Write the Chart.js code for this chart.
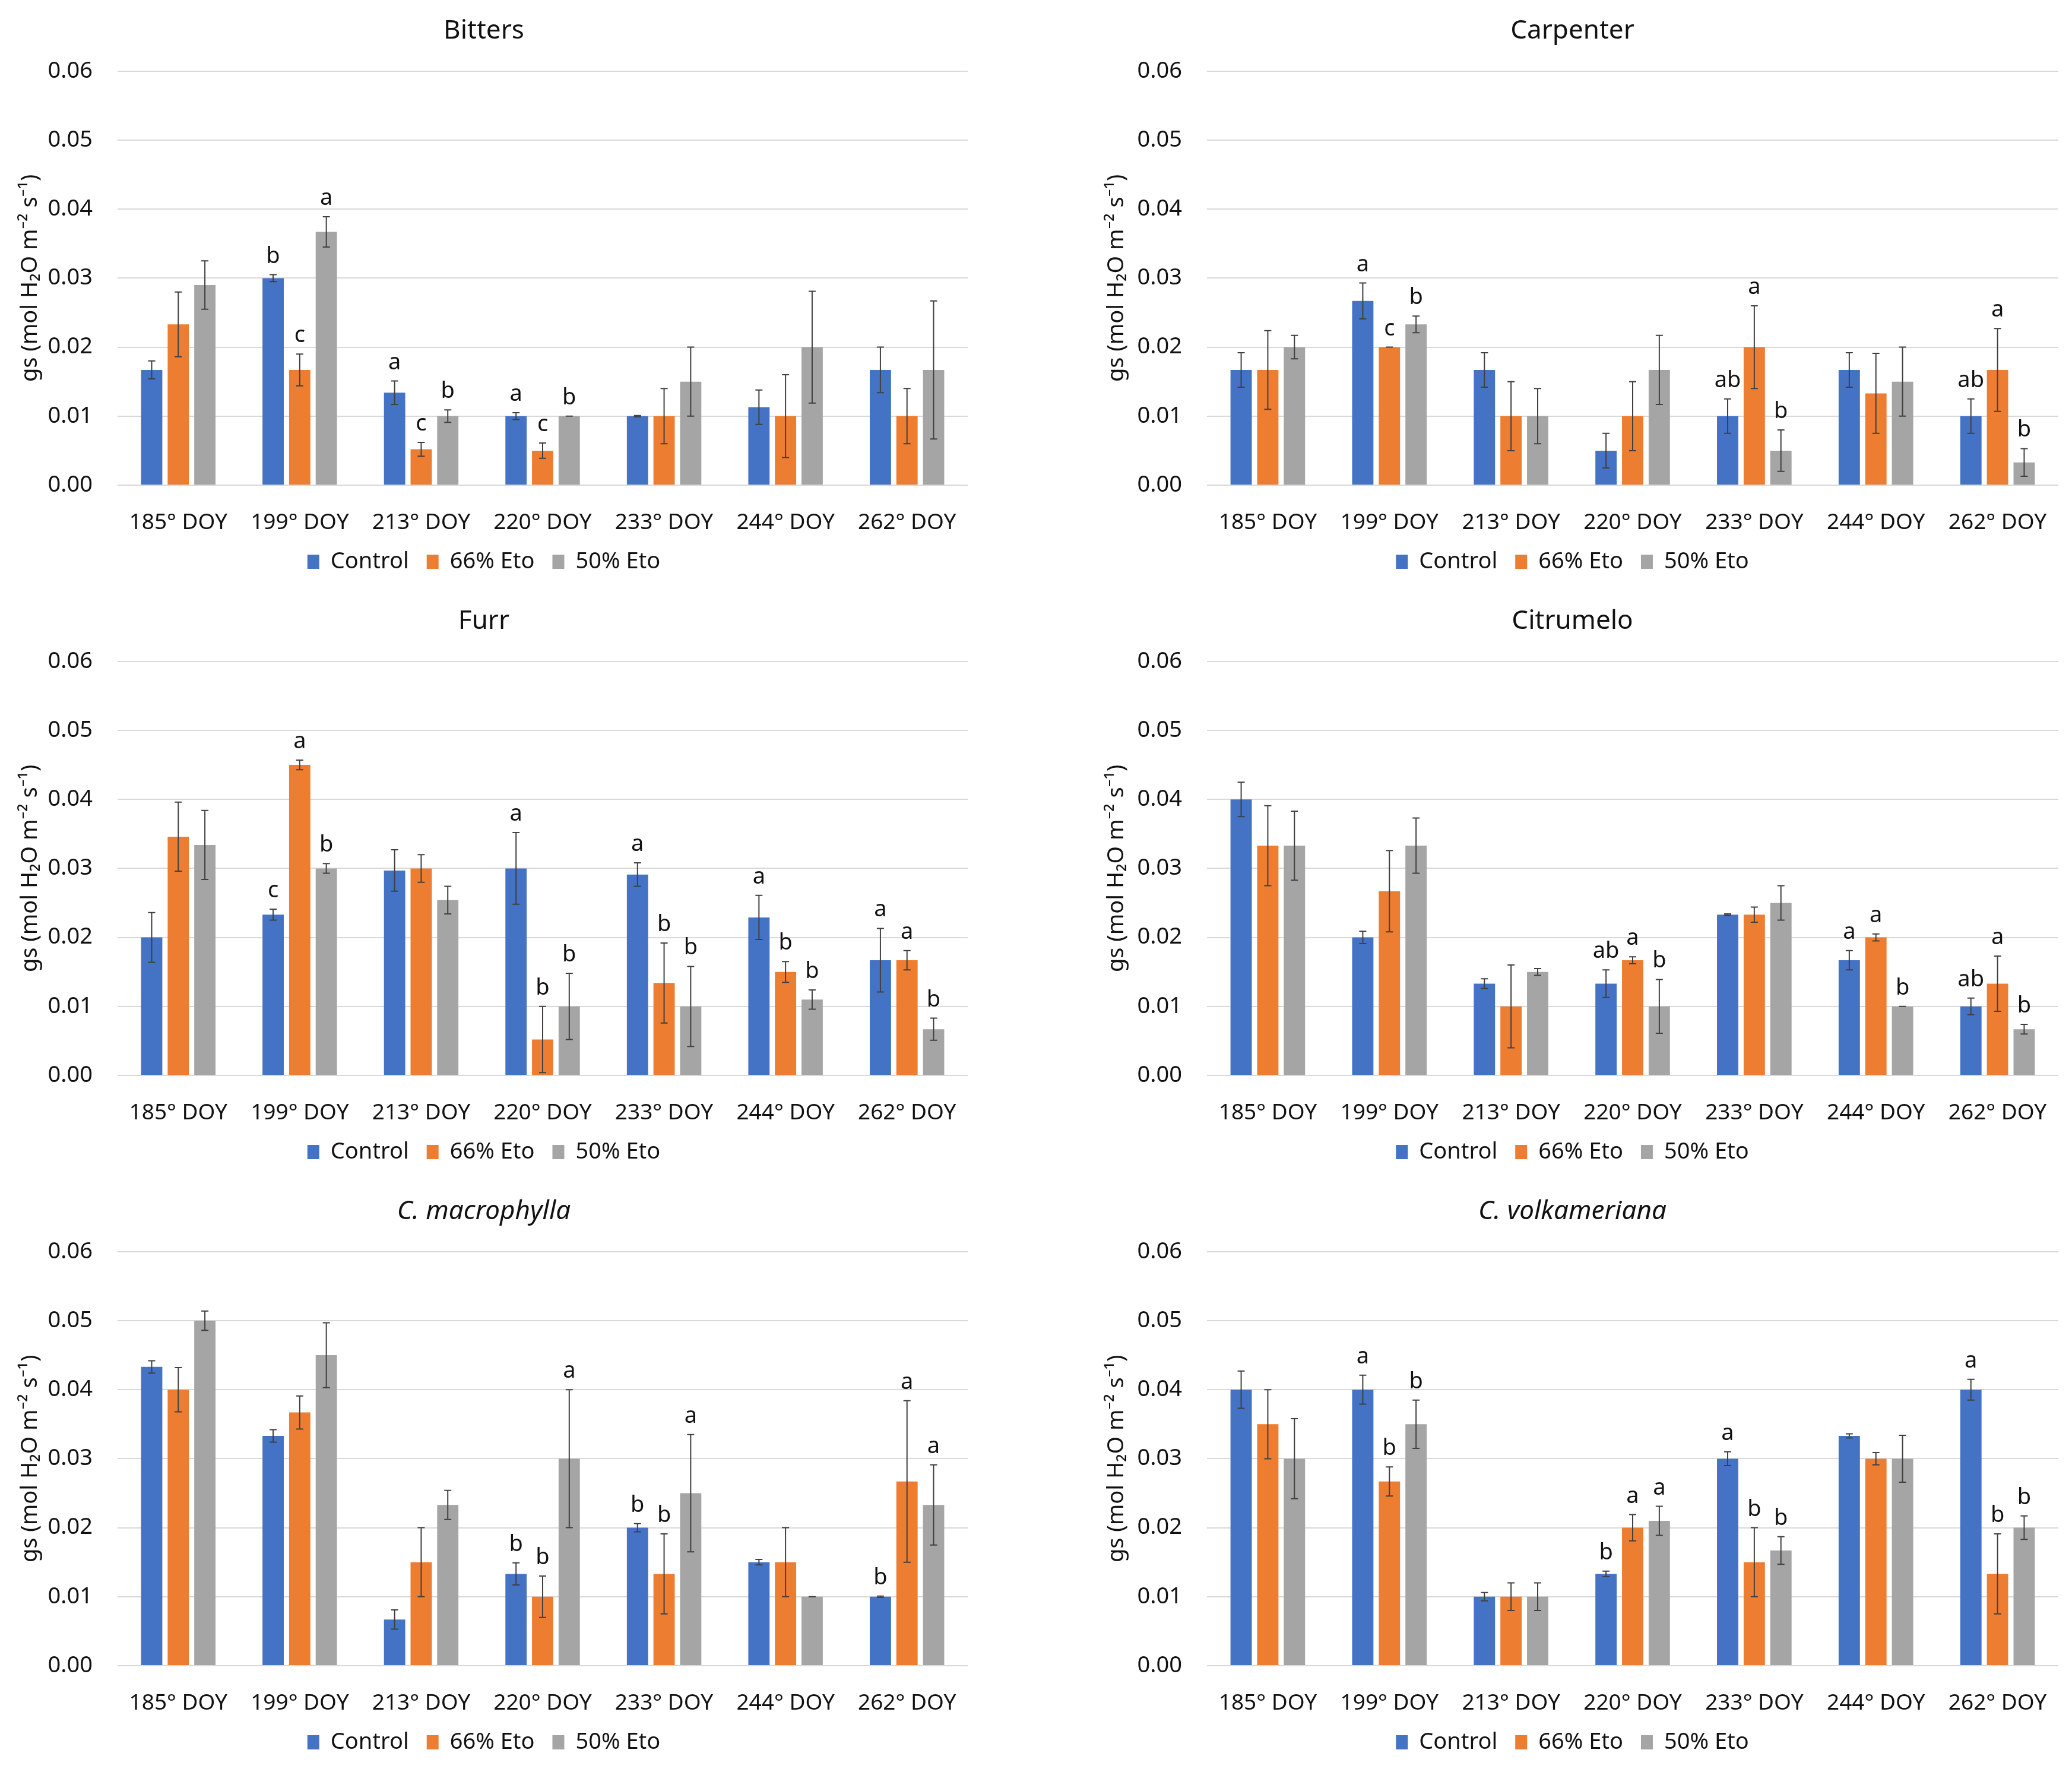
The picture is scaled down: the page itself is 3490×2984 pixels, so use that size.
<!DOCTYPE html>
<html><head><meta charset="utf-8">
<script src="https://cdn.jsdelivr.net/npm/chart.js@4.4.1/dist/chart.umd.min.js"></script>
<style>
html,body{margin:0;padding:0;background:#fff;}
#wrap{position:relative;width:3490px;height:2984px;background:#fff;}
canvas.panel{position:absolute;}
</style></head><body><div id="wrap"></div>
<script>
const categories = ['185° DOY','199° DOY','213° DOY','220° DOY','233° DOY','244° DOY','262° DOY'];
const seriesNames = ['Control','66% Eto','50% Eto'];
const yTicks = [0, 0.01, 0.02, 0.03, 0.04, 0.05, 0.06];

// Bitters
const bitters_control     = [0.0167, 0.0300, 0.0134, 0.0100, 0.0100, 0.0113, 0.0167];
const bitters_control_err = [0.0013, 0.0005, 0.0017, 0.0005, 0.0001, 0.0025, 0.0033];
const bitters_control_sig = ['', 'b', 'a', 'a', '', '', ''];
const bitters_eto66       = [0.0233, 0.0167, 0.0052, 0.0050, 0.0100, 0.0100, 0.0100];
const bitters_eto66_err   = [0.0047, 0.0023, 0.0010, 0.0011, 0.0040, 0.0060, 0.0040];
const bitters_eto66_sig   = ['', 'c', 'c', 'c', '', '', ''];
const bitters_eto50       = [0.0290, 0.0367, 0.0100, 0.0100, 0.0150, 0.0200, 0.0167];
const bitters_eto50_err   = [0.0035, 0.0022, 0.0009, 0.0000, 0.0050, 0.0081, 0.0100];
const bitters_eto50_sig   = ['', 'a', 'b', 'b', '', '', ''];

// Carpenter
const carpenter_control     = [0.0167, 0.0267, 0.0167, 0.0050, 0.0100, 0.0167, 0.0100];
const carpenter_control_err = [0.0025, 0.0026, 0.0025, 0.0025, 0.0025, 0.0025, 0.0025];
const carpenter_control_sig = ['', 'a', '', '', 'ab', '', 'ab'];
const carpenter_eto66       = [0.0167, 0.0200, 0.0100, 0.0100, 0.0200, 0.0133, 0.0167];
const carpenter_eto66_err   = [0.0057, 0.0000, 0.0050, 0.0050, 0.0060, 0.0058, 0.0060];
const carpenter_eto66_sig   = ['', 'c', '', '', 'a', '', 'a'];
const carpenter_eto50       = [0.0200, 0.0233, 0.0100, 0.0167, 0.0050, 0.0150, 0.0033];
const carpenter_eto50_err   = [0.0017, 0.0012, 0.0040, 0.0050, 0.0030, 0.0050, 0.0020];
const carpenter_eto50_sig   = ['', 'b', '', '', 'b', '', 'b'];

// Furr
const furr_control     = [0.0200, 0.0233, 0.0297, 0.0300, 0.0291, 0.0229, 0.0167];
const furr_control_err = [0.0036, 0.0008, 0.0030, 0.0052, 0.0017, 0.0032, 0.0046];
const furr_control_sig = ['', 'c', '', 'a', 'a', 'a', 'a'];
const furr_eto66       = [0.0346, 0.0450, 0.0300, 0.0052, 0.0134, 0.0150, 0.0167];
const furr_eto66_err   = [0.0050, 0.0007, 0.0020, 0.0048, 0.0058, 0.0015, 0.0014];
const furr_eto66_sig   = ['', 'a', '', 'b', 'b', 'b', 'a'];
const furr_eto50       = [0.0334, 0.0300, 0.0254, 0.0100, 0.0100, 0.0110, 0.0067];
const furr_eto50_err   = [0.0050, 0.0007, 0.0020, 0.0048, 0.0058, 0.0014, 0.0016];
const furr_eto50_sig   = ['', 'b', '', 'b', 'b', 'b', 'b'];

// Citrumelo
const citrumelo_control     = [0.0400, 0.0200, 0.0133, 0.0133, 0.0233, 0.0167, 0.0100];
const citrumelo_control_err = [0.0025, 0.0009, 0.0007, 0.0020, 0.0001, 0.0014, 0.0012];
const citrumelo_control_sig = ['', '', '', 'ab', '', 'a', 'ab'];
const citrumelo_eto66       = [0.0333, 0.0267, 0.0100, 0.0167, 0.0233, 0.0200, 0.0133];
const citrumelo_eto66_err   = [0.0058, 0.0059, 0.0060, 0.0005, 0.0011, 0.0005, 0.0040];
const citrumelo_eto66_sig   = ['', '', '', 'a', '', 'a', 'a'];
const citrumelo_eto50       = [0.0333, 0.0333, 0.0150, 0.0100, 0.0250, 0.0100, 0.0067];
const citrumelo_eto50_err   = [0.0050, 0.0040, 0.0005, 0.0039, 0.0025, 0.0000, 0.0007];
const citrumelo_eto50_sig   = ['', '', '', 'b', '', 'b', 'b'];

// C. macrophylla
const macro_control     = [0.0433, 0.0333, 0.0067, 0.0133, 0.0200, 0.0150, 0.0100];
const macro_control_err = [0.0009, 0.0009, 0.0014, 0.0016, 0.0006, 0.0004, 0.0001];
const macro_control_sig = ['', '', '', 'b', 'b', '', 'b'];
const macro_eto66       = [0.0400, 0.0367, 0.0150, 0.0100, 0.0133, 0.0150, 0.0267];
const macro_eto66_err   = [0.0032, 0.0024, 0.0050, 0.0030, 0.0058, 0.0050, 0.0117];
const macro_eto66_sig   = ['', '', '', 'b', 'b', '', 'a'];
const macro_eto50       = [0.0500, 0.0450, 0.0233, 0.0300, 0.0250, 0.0100, 0.0233];
const macro_eto50_err   = [0.0014, 0.0047, 0.0021, 0.0100, 0.0085, 0.0000, 0.0058];
const macro_eto50_sig   = ['', '', '', 'a', 'a', '', 'a'];

// C. volkameriana
const volk_control     = [0.0400, 0.0400, 0.0100, 0.0133, 0.0300, 0.0333, 0.0400];
const volk_control_err = [0.0027, 0.0021, 0.0006, 0.0004, 0.0010, 0.0003, 0.0015];
const volk_control_sig = ['', 'a', '', 'b', 'a', '', 'a'];
const volk_eto66       = [0.0350, 0.0267, 0.0100, 0.0200, 0.0150, 0.0300, 0.0133];
const volk_eto66_err   = [0.0050, 0.0021, 0.0020, 0.0019, 0.0050, 0.0009, 0.0058];
const volk_eto66_sig   = ['', 'b', '', 'a', 'b', '', 'b'];
const volk_eto50       = [0.0300, 0.0350, 0.0100, 0.0210, 0.0167, 0.0300, 0.0200];
const volk_eto50_err   = [0.0058, 0.0035, 0.0020, 0.0021, 0.0020, 0.0034, 0.0017];
const volk_eto50_sig   = ['', 'b', '', 'a', 'b', '', 'b'];

const seriesColors = ['#4472C4', '#ED7D31', '#A5A5A5'];
const FONT = "'Noto Sans', 'DejaVu Sans', sans-serif";
const TEXT = '#111111';
const PANEL_W = 1660, PANEL_H = 994;

const panels = [
  {title:'Bitters', italic:false, x:0, y:0, yW:198, padR:30,
   s:[[bitters_control,bitters_control_err,bitters_control_sig],[bitters_eto66,bitters_eto66_err,bitters_eto66_sig],[bitters_eto50,bitters_eto50_err,bitters_eto50_sig]]},
  {title:'Carpenter', italic:false, x:1830, y:0, yW:203, padR:23,
   s:[[carpenter_control,carpenter_control_err,carpenter_control_sig],[carpenter_eto66,carpenter_eto66_err,carpenter_eto66_sig],[carpenter_eto50,carpenter_eto50_err,carpenter_eto50_sig]]},
  {title:'Furr', italic:false, x:0, y:994, yW:198, padR:30,
   s:[[furr_control,furr_control_err,furr_control_sig],[furr_eto66,furr_eto66_err,furr_eto66_sig],[furr_eto50,furr_eto50_err,furr_eto50_sig]]},
  {title:'Citrumelo', italic:false, x:1830, y:994, yW:203, padR:23,
   s:[[citrumelo_control,citrumelo_control_err,citrumelo_control_sig],[citrumelo_eto66,citrumelo_eto66_err,citrumelo_eto66_sig],[citrumelo_eto50,citrumelo_eto50_err,citrumelo_eto50_sig]]},
  {title:'C. macrophylla', italic:true, x:0, y:1988, yW:198, padR:30,
   s:[[macro_control,macro_control_err,macro_control_sig],[macro_eto66,macro_eto66_err,macro_eto66_sig],[macro_eto50,macro_eto50_err,macro_eto50_sig]]},
  {title:'C. volkameriana', italic:true, x:1830, y:1988, yW:203, padR:23,
   s:[[volk_control,volk_control_err,volk_control_sig],[volk_eto66,volk_eto66_err,volk_eto66_sig],[volk_eto50,volk_eto50_err,volk_eto50_sig]]}
];

const errorBarPlugin = {
  id: 'errorBars',
  afterDatasetsDraw(chart) {
    const ctx = chart.ctx;
    const ys = chart.scales.y;
    chart.data.datasets.forEach((ds, di) => {
      const meta = chart.getDatasetMeta(di);
      meta.data.forEach((bar, i) => {
        const v = ds.data[i], e = ds.errors[i];
        const yT = ys.getPixelForValue(v + e);
        const yB = ys.getPixelForValue(Math.max(v - e, 0));
        ctx.save();
        ctx.strokeStyle = '#404040';
        ctx.lineWidth = 2;
        ctx.beginPath();
        ctx.moveTo(bar.x, yT); ctx.lineTo(bar.x, yB);
        ctx.moveTo(bar.x - 6, yT); ctx.lineTo(bar.x + 6, yT);
        ctx.moveTo(bar.x - 6, yB); ctx.lineTo(bar.x + 6, yB);
        ctx.stroke();
        const s = ds.letters[i];
        if (s) {
          ctx.fillStyle = TEXT;
          ctx.font = '38px ' + FONT;
          ctx.textAlign = 'center';
          ctx.textBaseline = 'alphabetic';
          ctx.fillText(s, bar.x, yT - 20);
        }
        ctx.restore();
      });
    });
  }
};

const wrap = document.getElementById('wrap');
panels.forEach(p => {
  const cv = document.createElement('canvas');
  cv.className = 'panel';
  cv.width = PANEL_W; cv.height = PANEL_H;
  cv.style.left = p.x + 'px'; cv.style.top = p.y + 'px';
  cv.style.width = PANEL_W + 'px'; cv.style.height = PANEL_H + 'px';
  wrap.appendChild(cv);
  new Chart(cv, {
    type: 'bar',
    data: {
      labels: categories,
      datasets: p.s.map((s, k) => ({
        label: seriesNames[k],
        data: s[0],
        errors: s[1],
        letters: s[2],
        backgroundColor: seriesColors[k],
        borderWidth: 0,
        categoryPercentage: 0.657,
        barPercentage: 0.8
      }))
    },
    options: {
      responsive: false,
      devicePixelRatio: 1,
      animation: false,
      layout: { padding: { left: 0, right: p.padR, top: 0, bottom: 19 } },
      plugins: {
        title: {
          display: true,
          text: p.title,
          color: TEXT,
          font: { family: FONT, size: 44, weight: 'normal', style: p.italic ? 'italic' : 'normal' },
          padding: { top: 26, bottom: 41 }
        },
        legend: {
          display: true,
          position: 'bottom',
          labels: {
            color: TEXT,
            font: { family: FONT, size: 38 },
            boxWidth: 20,
            boxHeight: 24,
            padding: 30
          }
        },
        tooltip: { enabled: false }
      },
      scales: {
        x: {
          grid: { display: false },
          border: { display: false },
          ticks: { color: TEXT, font: { family: FONT, size: 37 }, padding: 33, maxRotation: 0, autoSkip: false },
          afterFit(scale) { scale.height = 80; }
        },
        y: {
          min: 0, max: 0.06,
          grid: { color: '#D9D9D9', lineWidth: 2, drawTicks: false },
          border: { display: false },
          afterBuildTicks(scale) { scale.ticks = yTicks.map(v => ({ value: v })); },
          ticks: { color: TEXT, font: { family: FONT, size: 38 }, padding: 42, callback: v => Number(v).toFixed(2) },
          title: {
            display: true,
            text: 'gs (mol H₂O m⁻² s⁻¹)',
            color: TEXT,
            font: { family: FONT, size: 38 },
            padding: { top: 28, bottom: 0 }
          },
          afterFit(scale) { scale.width = p.yW; }
        }
      }
    },
    plugins: [errorBarPlugin]
  });
});
</script>
</body></html>
